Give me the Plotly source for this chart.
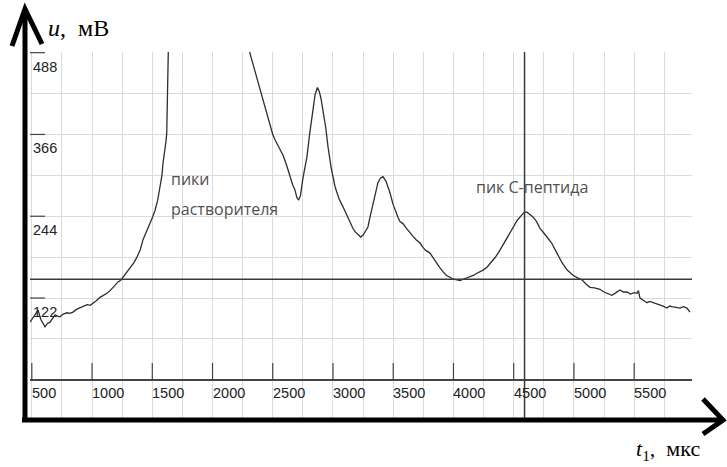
import plotly.graph_objects as go

# Chromatogram trace: time t1 (us) vs detector signal u (mV)
t_us = [
    485, 510, 530, 552, 575, 610, 630, 651, 672, 693, 714, 734, 760, 793,
    815, 842, 870, 900, 930, 959, 985, 1008, 1035, 1066, 1095, 1124, 1150,
    1174, 1195, 1216, 1240, 1257, 1285, 1315, 1345, 1373, 1400, 1423, 1450,
    1481, 1503, 1523, 1545, 1564, 1580, 1589, 1600, 1606, 1614, 1620, 1622,
    1631, 1650, 1900, 2200, 2290,
    2311, 2350, 2394, 2440, 2477, 2500, 2519, 2550, 2585, 2615, 2643, 2665,
    2685, 2700, 2715, 2730, 2750, 2770, 2784, 2805, 2826, 2851, 2870, 2885,
    2900, 2917, 2940, 2959, 2985, 3017, 3050, 3083, 3110, 3141, 3165, 3183,
    3210, 3230, 3250, 3270, 3290, 3310, 3332, 3355, 3373, 3395, 3415, 3440,
    3473, 3498, 3515, 3540, 3556, 3581, 3610, 3639, 3665, 3690, 3722, 3745,
    3770, 3805, 3830, 3860, 3888, 3915, 3940, 3971, 4000, 4029, 4055, 4080,
    4112, 4140, 4170, 4195, 4220, 4250, 4278, 4310, 4344, 4375, 4411, 4450,
    4494, 4530, 4568, 4590, 4610, 4635, 4660, 4690, 4718, 4750, 4784, 4815,
    4859, 4900, 4942, 4970, 4992, 5030, 5066, 5100, 5133, 5170, 5216, 5250,
    5280, 5315, 5350, 5382, 5410, 5440, 5470, 5500, 5523, 5535, 5548, 5575,
    5606, 5630, 5648, 5680, 5714, 5740, 5772, 5795, 5813, 5845, 5880, 5910,
    5938, 5963,
]
u_mv = [
    86, 92, 98, 104, 90, 79, 84, 86, 92, 97, 95, 94, 98, 100,
    99, 101, 105, 107, 109, 112, 111, 114, 118, 123, 126, 129, 133,
    138, 141, 146, 149, 153, 160, 167, 174, 183, 194, 209, 220,
    234, 243, 253, 268, 288, 305, 323, 335, 343, 356, 368, 418,
    489, 650, 1100, 800, 510,
    487, 462, 433, 404, 377, 366, 358, 347, 335, 320, 303, 291,
    283, 272, 268, 275, 300, 320, 333, 365, 392, 425, 436, 431,
    420, 403, 376, 347, 316, 288, 270, 258, 247, 234, 226, 221,
    216, 213, 216, 222, 228, 245, 264, 283, 294, 301, 303, 296,
    279, 262, 253, 242, 236, 233, 226, 219, 214, 209, 204, 198,
    193, 189, 182, 175, 167, 161, 156, 153, 150, 149, 148, 150,
    152, 154, 156, 159, 161, 164, 168, 174, 182, 190, 201, 214,
    228, 238, 246, 250, 250, 247, 243, 236, 226, 219, 212, 204,
    189, 175, 164, 160, 156, 152, 149, 143, 138, 137, 135, 131,
    129, 126, 130, 134, 131, 131, 128, 130, 129, 133, 122, 119,
    115, 117, 116, 114, 112, 110, 107, 110, 109, 108, 107, 109,
    107, 101,
]

x_ticks = [500, 1000, 1500, 2000, 2500, 3000, 3500, 4000, 4500, 5000, 5500]
y_ticks = [122, 244, 366, 488]

baseline_u = 150
peptide_t = 4590

X_RANGE = [485, 5980]
Y_RANGE = [-57, 489]

W, H = 727, 467
ML, MR, MT, MB = 30, 35, 52, 49
PW, PH = W - ML - MR, H - MT - MB


def px(x):
    return (x - ML) / PW


def py(y):
    return (H - MB - y) / PH


fig = go.Figure()
fig.add_trace(go.Scatter(
    x=t_us, y=u_mv, mode="lines",
    line=dict(color="#2e2e2e", width=1.3),
    hoverinfo="skip", showlegend=False,
))

shapes = []
# baseline and peak marker lines
shapes.append(dict(type="line", xref="paper", yref="y", x0=0, x1=1,
                   y0=baseline_u, y1=baseline_u,
                   line=dict(color="#3a3a3a", width=1.5)))
shapes.append(dict(type="line", xref="x", yref="paper", x0=peptide_t, x1=peptide_t,
                   y0=0, y1=1, line=dict(color="#3a3a3a", width=1.5)))
# tick marks on the zero line
for v in x_ticks:
    shapes.append(dict(type="line", xref="x", yref="y", x0=v, x1=v, y0=0, y1=25,
                       line=dict(color="#444", width=1.2)))
# tick marks on the left edge
for v in y_ticks:
    shapes.append(dict(type="line", xref="paper", yref="y", x0=0, x1=15 / PW,
                       y0=v, y1=v, line=dict(color="#444", width=1.2)))
# thick axes with arrowheads
axis_line = dict(color="black", width=5)
shapes.append(dict(type="line", xref="paper", yref="paper",
                   x0=px(25), y0=py(421), x1=px(25), y1=py(11), line=axis_line))
shapes.append(dict(type="line", xref="paper", yref="paper",
                   x0=px(22), y0=py(420), x1=px(721), y1=py(420), line=axis_line))


def path(pts):
    return "M " + " L ".join(f"{px(a):.5f},{py(b):.5f}" for a, b in pts)


shapes.append(dict(type="path", xref="paper", yref="paper",
                   path=path([(12, 46), (25, 9), (42, 44)]),
                   line=dict(color="black", width=5)))
shapes.append(dict(type="path", xref="paper", yref="paper",
                   path=path([(703, 399), (723, 420), (703, 434)]),
                   line=dict(color="black", width=5)))

tick_font = dict(family="Liberation Sans, Arial, sans-serif", size=14.5, color="#222")
annotations = []
for v in x_ticks:
    annotations.append(dict(x=v, y=-20, xref="x", yref="y", text=str(v),
                            showarrow=False, xanchor="left", yanchor="middle",
                            xshift=-2, font=tick_font))
for v in y_ticks:
    annotations.append(dict(x=1 / PW, y=v, xref="paper", yref="y", text=str(v),
                            showarrow=False, xanchor="left", yanchor="middle",
                            yshift=-14, font=tick_font))

label_font = dict(family="Open Sans, Noto Sans, sans-serif", size=16, color="#505050")
annotations += [
    dict(x=1664, y=300, xref="x", yref="y", text="пики", showarrow=False,
         xanchor="left", yanchor="middle", xshift=-3, font=label_font),
    dict(x=1664, y=255, xref="x", yref="y", text="растворителя", showarrow=False,
         xanchor="left", yanchor="middle", xshift=-3, font=label_font),
    dict(x=4195, y=288, xref="x", yref="y", text="пик С-пептида", showarrow=False,
         xanchor="left", yanchor="middle", xshift=-3, font=label_font),
]

serif = dict(family="Liberation Serif, Times New Roman, serif", size=24, color="black")
annotations += [
    dict(x=px(46), y=py(28), xref="paper", yref="paper",
         text="<i>u</i>,  мВ", showarrow=False, xanchor="left", yanchor="middle",
         font=serif),
    dict(x=px(634), y=py(450), xref="paper", yref="paper",
         text="<i>t</i><sub>1</sub>,  мкс", showarrow=False, xanchor="left",
         yanchor="middle", font=dict(serif, size=22)),
]

fig.update_layout(
    width=W, height=H,
    margin=dict(l=ML, r=MR, t=MT, b=MB),
    paper_bgcolor="white", plot_bgcolor="white",
    shapes=shapes, annotations=annotations,
    xaxis=dict(range=X_RANGE, tick0=500, dtick=250, showgrid=True,
               gridcolor="#dadada", gridwidth=1, showticklabels=False,
               zeroline=False, showline=False, ticks=""),
    yaxis=dict(range=Y_RANGE, tick0=0, dtick=61, showgrid=True,
               gridcolor="#dadada", gridwidth=1, showticklabels=False,
               zeroline=True, zerolinecolor="#444", zerolinewidth=1.5,
               showline=False, ticks=""),
)

fig.write_html("out.html")
